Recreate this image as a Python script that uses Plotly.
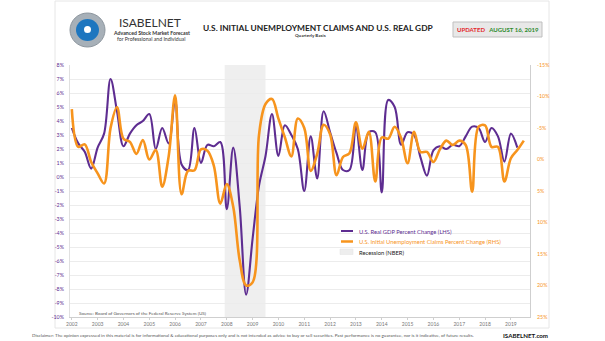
import plotly.graph_objects as go

# ---------------- data ----------------
start_year = 2002
gdp_values = [
    3.5, 2.4, 1.8, 0.6,    # 2002
    2.1, 3.1, 7.0, 4.7,    # 2003
    2.2, 3.1, 3.7, 4.0,    # 2004
    4.5, 2.0, 3.5, 2.4,    # 2005
    5.5, 0.9, 0.5, 3.5,    # 2006
    1.0, 2.3, 2.2, 2.5,    # 2007
    -2.3, 2.1, -2.1, -8.4, # 2008
    -4.4, -0.6, 1.5, 4.5,  # 2009
    1.5, 3.7, 3.0, 2.0,    # 2010
    -1.0, 2.9, -0.1, 4.7,  # 2011
    3.2, 1.7, 0.5, 0.5,    # 2012
    3.6, 0.5, 3.2, 3.2,    # 2013
    -1.1, 5.5, 5.0, 2.3,   # 2014
    3.2, 3.0, 1.4, 0.1,    # 2015
    1.9, 2.2, 2.0, 2.3,    # 2016
    2.2, 2.9, 3.6, 3.5,    # 2017
    2.5, 3.5, 2.9, 1.1,    # 2018
    3.1, 2.1,              # 2019
]
claims_values = [
    -8.0, -2.0, -2.4, 0.4,    # 2002
    2.2, 3.8, -5.0, -8.3,     # 2003
    -3.3, -2.8, -0.9, -3.1,   # 2004
    0.0, -1.5, 4.3, -0.5,     # 2005
    -10.2, 5.5, 1.8, 1.7,     # 2006
    -1.6, -1.4, 1.0, 7.0,     # 2007
    3.9, 7.5, 16.0, 20.0,     # 2008
    19.5, -4.0, -8.8, -9.6,   # 2009
    -6.5, -3.5, -0.5, -6.5,   # 2010
    -5.0, 1.8, -0.9, -5.5,    # 2011
    -4.0, 2.5, -0.4, -1.0,    # 2012
    -5.9, -1.7, -4.4, 3.5,    # 2013
    -3.5, -3.3, -5.2, -3.4,   # 2014
    0.6, -4.4, -1.2, -1.2,    # 2015
    0.4, -1.6, -3.0, -2.3,    # 2016
    -3.0, -2.3, 5.1, -5.2,    # 2017
    -5.4, -2.0, -2.0, 3.5,    # 2018
    -0.2, -1.5, -3.0,         # 2019
]
year_ticks = list(range(2002, 2020))
left_ticks = list(range(-10, 9))
right_ticks = [-15, -10, -5, 0, 5, 10, 15, 20, 25]
recession = (2007.92, 2009.5)

def qpos(n):
    return [start_year + i / 4 for i in range(n)]

gdp_x = qpos(len(gdp_values))
claims_x = qpos(len(claims_values))

# ---------------- layout geometry ----------------
W, H = 605, 341
L, R, T, B = 70, 530, 65, 317

def X(px):
    return (px - L) / (R - L)

def Y(py):
    return (B - py) / (B - T)

PURPLE = "#5e2d91"
ORANGE = "#f7941d"
FONT = "Lato"

fig = go.Figure()
fig.add_trace(go.Scatter(x=gdp_x, y=gdp_values, mode="lines",
                         line=dict(color=PURPLE, width=2.1, shape="spline", smoothing=1.0),
                         name="U.S. Real GDP Percent Change (LHS)", yaxis="y"))
fig.add_trace(go.Scatter(x=claims_x, y=claims_values, mode="lines",
                         line=dict(color=ORANGE, width=2.6, shape="spline", smoothing=1.0),
                         name="U.S. Initial Unemployment Claims Percent Change (RHS)", yaxis="y2"))

shapes = []
# recession band
shapes.append(dict(type="rect", xref="x", yref="paper", x0=recession[0], x1=recession[1],
                   y0=0, y1=1, fillcolor="#efefef", line=dict(width=0), layer="below"))
# outer frame
shapes.append(dict(type="rect", xref="paper", yref="paper", x0=X(55), x1=X(549), y0=Y(328), y1=Y(1),
                   line=dict(color="#e6e6e6", width=1), fillcolor="rgba(0,0,0,0)", layer="below"))
# logo (rounded shield approximated with circles)
shapes.append(dict(type="circle", xref="paper", yref="paper", x0=X(70), x1=X(105), y0=Y(47), y1=Y(13),
                   fillcolor="#a7b0b8", line=dict(color="#8d969e", width=1)))
shapes.append(dict(type="circle", xref="paper", yref="paper", x0=X(76), x1=X(99), y0=Y(41), y1=Y(19),
                   fillcolor="#1d76bf", line=dict(width=0)))
shapes.append(dict(type="circle", xref="paper", yref="paper", x0=X(84), x1=X(91), y0=Y(33), y1=Y(26),
                   fillcolor="#ffffff", line=dict(width=0)))
# updated box
shapes.append(dict(type="rect", xref="paper", yref="paper", x0=X(453), x1=X(542), y0=Y(37), y1=Y(22),
                   fillcolor="#e8e8e8", line=dict(color="#bfbfbf", width=1)))
# legend swatches
shapes.append(dict(type="line", xref="paper", yref="paper", x0=X(341), x1=X(353), y0=Y(231), y1=Y(231),
                   line=dict(color=PURPLE, width=2)))
shapes.append(dict(type="line", xref="paper", yref="paper", x0=X(341), x1=X(353), y0=Y(241.5), y1=Y(241.5),
                   line=dict(color=ORANGE, width=2.5)))
shapes.append(dict(type="rect", xref="paper", yref="paper", x0=X(340), x1=X(353), y0=Y(254.5), y1=Y(249),
                   fillcolor="#eeeeee", line=dict(color="#e2e2e2", width=0.5)))

ann = []
def text(px, py, s, size, color="#333", anchor="left", bold=False):
    ann.append(dict(xref="paper", yref="paper", x=X(px), y=Y(py), text=("<b>%s</b>" % s) if bold else s,
                    showarrow=False, xanchor=anchor, yanchor="middle",
                    font=dict(family=FONT, size=size, color=color)))

text(150, 23, "ISABELNET", 12, "#333", "center")
text(151, 33, "Advanced Stock Market Forecast", 5.2, "#333", "center", True)
text(151, 39.5, "for Professional and Individual", 5.2, "#333", "center")
text(318, 28, "U.S. INITIAL UNEMPLOYMENT CLAIMS AND U.S. REAL GDP", 8.4, "#222", "center", True)
text(310, 35.5, "Quarterly Basis", 4.5, "#333", "center", True)
ann.append(dict(xref="paper", yref="paper", x=X(497.5), y=Y(29.5), showarrow=False,
                xanchor="center", yanchor="middle",
                text="<b><span style='color:#e3262b'>UPDATED</span>   <span style='color:#2e8b2e'>AUGUST 16, 2019</span></b>",
                font=dict(family=FONT, size=6)))
text(357, 231, "U.S. Real GDP Percent Change (LHS)", 5.8, PURPLE)
text(357, 241.5, "U.S. Initial Unemployment Claims Percent Change (RHS)", 5.8, ORANGE)
text(357, 252, "Recession (NBER)", 5.8, "#222")
text(77, 313, "Source: Board of Governors of the Federal Reserve System (US)", 4.6, "#555")
text(30, 335, "Disclaimer: The opinion expressed in this material is for informational &amp; educational purposes only and is not intended as advice to buy or sell securities. Past performance is no guarantee, nor is it indicative, of future results.", 4.55, "#555")
text(550, 335, "ISABELNET.com", 6.2, "#111", "right", True)

fig.update_layout(
    width=W, height=H,
    margin=dict(l=L, r=W - R, t=T, b=H - B, pad=0),
    paper_bgcolor="white", plot_bgcolor="white",
    showlegend=False,
    shapes=shapes, annotations=ann,
    xaxis=dict(range=[2001.93, 2019.74], tickmode="array", tickvals=year_ticks,
               ticktext=[str(y) for y in year_ticks], showgrid=False, zeroline=False,
               showline=True, linecolor="#cfcfcf", linewidth=1, ticks="outside", ticklen=2,
               tickcolor="#cfcfcf", tickfont=dict(family=FONT, size=5, color="#777")),
    yaxis=dict(range=[-10, 8], tickmode="array", tickvals=left_ticks,
               ticktext=["%d%%" % v for v in left_ticks], showgrid=True, gridcolor="#ececec",
               gridwidth=1, zeroline=False, showline=True, linecolor="#e0e0e0",
               ticks="", ticklabelstandoff=4, tickfont=dict(family=FONT, size=5.3, color=PURPLE)),
    yaxis2=dict(range=[25, -15], overlaying="y", side="right", tickmode="array", tickvals=right_ticks,
                ticktext=["%d%%" % v for v in right_ticks], showgrid=False, zeroline=False,
                showline=True, linecolor="#cfcfcf", ticks="", ticklabelstandoff=5,
                tickfont=dict(family=FONT, size=5.3, color=ORANGE)),
)

fig.write_html("out.html")
